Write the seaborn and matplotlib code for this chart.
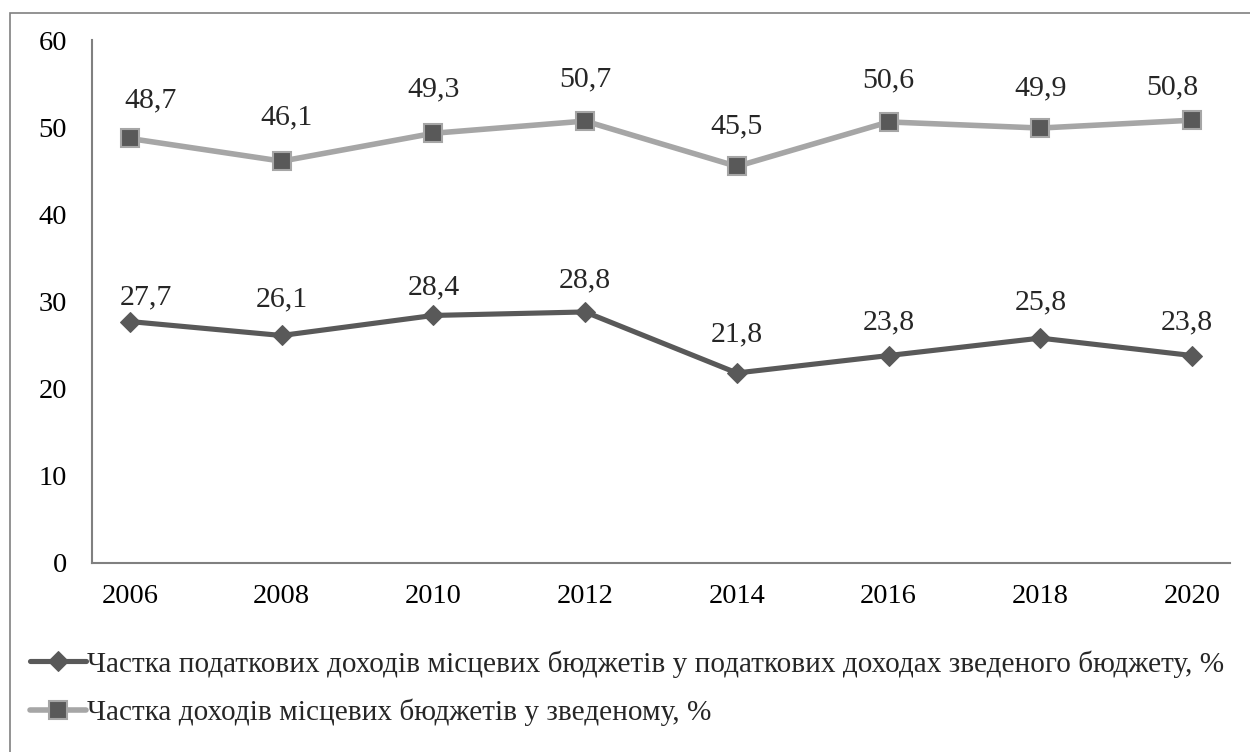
import matplotlib
matplotlib.use("Agg")
import matplotlib.pyplot as plt
import seaborn as sns
import pandas as pd
from matplotlib.patches import Rectangle

years = ["2006", "2008", "2010", "2012", "2014", "2016", "2018", "2020"]
tax_share = [27.7, 26.1, 28.4, 28.8, 21.8, 23.8, 25.8, 23.8]
income_share = [48.7, 46.1, 49.3, 50.7, 45.5, 50.6, 49.9, 50.8]
label_tax = "Частка податкових доходів місцевих бюджетів у податкових доходах зведеного бюджету, %"
label_inc = "Частка доходів місцевих бюджетів у зведеному, %"

# label nudges (pixels) relative to the point
tax_dx = [16, 0, 0, 0, 0, 0, 0, -5]
tax_dy = [24, 36, 28, 32, 39, 33, 36, 33]
inc_dx = [21, 5, 0, 0, 0, 0, 0, -20]
inc_dy = [38, 44, 44, 42, 40, 42, 40, 33]

sns.set_theme(style="white")
plt.rcParams['font.family'] = ['Liberation Serif', 'DejaVu Serif']

df = pd.DataFrame({"x": list(range(len(years))), "tax": tax_share, "inc": income_share})

fig = plt.figure(figsize=(12.5, 7.52), dpi=100)
ax = fig.add_axes([92/1250, 1-563/752, (1230-92)/1250, (563-40)/752])

sns.lineplot(data=df, x="x", y="tax", ax=ax, color="#595959", linewidth=3.7,
             marker="D", markersize=10.5, markerfacecolor="#595959", markeredgecolor="#595959",
             label=label_tax, legend=False)
sns.lineplot(data=df, x="x", y="inc", ax=ax, color="#A6A6A6", linewidth=4.0,
             marker="s", markersize=13, markerfacecolor="#595959", markeredgecolor="#A6A6A6",
             markeredgewidth=1.5, label=label_inc, legend=False)

px = 72 / 100
for i, v in enumerate(tax_share):
    ax.annotate(f"{v:.1f}".replace(".", ","), (i, v),
                xytext=(tax_dx[i] * px, tax_dy[i] * px), textcoords="offset points",
                ha="center", va="center", fontsize=21.5)
for i, v in enumerate(income_share):
    ax.annotate(f"{v:.1f}".replace(".", ","), (i, v),
                xytext=(inc_dx[i] * px, inc_dy[i] * px), textcoords="offset points",
                ha="center", va="center", fontsize=21.5)

ax.set_xlim(-0.25, len(years) - 0.75)
ax.set_ylim(0, 60)
ax.set_yticks([0, 10, 20, 30, 40, 50, 60])
ax.set_xticks(range(len(years)))
ax.set_xticklabels(years)
ax.set_xlabel("")
ax.set_ylabel("")
ax.tick_params(axis="both", labelsize=20.5, length=0, colors="black")
ax.tick_params(axis="x", pad=15)
ax.tick_params(axis="y", pad=18)
for s in ["top", "right"]:
    ax.spines[s].set_visible(False)
for s in ["left", "bottom"]:
    ax.spines[s].set_color("#808080")
    ax.spines[s].set_linewidth(1.5)
ax.grid(False)

handles, labels = ax.get_legend_handles_labels()
fig.legend(handles, labels, loc="upper left", bbox_to_anchor=(30/1250, 1-650/752),
           frameon=False, fontsize=21.1, handlelength=1.9, handletextpad=0.05,
           labelspacing=0.72, borderaxespad=0, borderpad=0)

fig.patches.append(Rectangle((10/1250, -0.01), 1.1, 1-13/752 + 0.01, transform=fig.transFigure,
                             fill=False, edgecolor="#808080", linewidth=1.2))

fig.savefig("out.png", dpi=100)
